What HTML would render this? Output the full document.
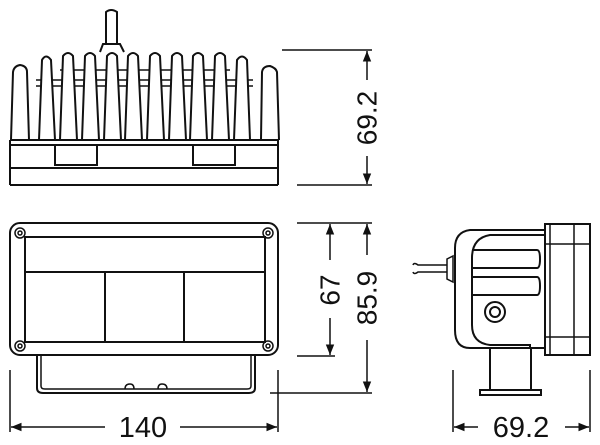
<!DOCTYPE html>
<html><head><style>body{margin:0;background:#fff}svg{display:block}</style></head><body>
<svg width="600" height="445" viewBox="0 0 600 445" xmlns="http://www.w3.org/2000/svg" fill="none" stroke="#111" stroke-width="2" font-family="Liberation Sans, sans-serif">
<defs><marker id="a" viewBox="0 0 10 10" refX="10" refY="5" markerWidth="7" markerHeight="7" orient="auto-start-reverse"><path d="M0,1 L10,5 L0,9z" fill="#111" stroke="none"/></marker></defs>
<!-- TOP VIEW -->
<path d="M106,44 V12 Q111,8 117,12 V44"/>
<path d="M100,52 L103,44 H120 L124,52"/>
<path d="M36,80 H253 M36,86 H253 M60,70 H230" stroke-width="1.5"/>
<g fill="#fff">
<path d="M11,140 L13,72 Q14,66 20,65 Q27,66 27,72 L29,140"/>
<path d="M261,140 L262,72 Q263,66 270,66 Q276,68 277,72 L279,140"/>
<path d="M39,140 L42,60 Q46,53 51,60 L55,140"/>
<path d="M60,140 L63,56 Q68,50 73,56 L77,140"/>
<path d="M82,140 L85,56 Q90,50 95,56 L99,140"/>
<path d="M104,140 L107,56 Q112,50 117,56 L121,140"/>
<path d="M125,140 L128,56 Q133,50 138,56 L142,140"/>
<path d="M147,140 L150,56 Q155,50 160,56 L164,140"/>
<path d="M169,140 L172,56 Q177,50 182,56 L186,140"/>
<path d="M190,140 L193,56 Q198,50 203,56 L207,140"/>
<path d="M212,140 L215,56 Q220,50 225,56 L229,140"/>
<path d="M234,140 L237,60 Q242,53 247,60 L250,140"/>
</g>
<path d="M10,140 H278 M10,145 H278 M10,168 H278 M10,185 H278"/>
<path d="M10,140 V185 M278,140 V185"/>
<path d="M55,145 V165 H97 V145 M193,145 V165 H235 V145"/>
<!-- 69.2 top dim -->
<path d="M282,50 H372 M297,185 H372" stroke-width="1.5"/>
<line x1="367" y1="80" x2="367" y2="51" marker-end="url(#a)" stroke-width="1.5"/>
<line x1="367" y1="156" x2="367" y2="184" marker-end="url(#a)" stroke-width="1.5"/>
<text x="367" y="118" transform="rotate(-90 367 118)" text-anchor="middle" dominant-baseline="central" font-size="28" fill="#111" stroke="none">69.2</text>
<!-- FRONT VIEW -->
<rect x="10" y="223" width="268" height="132" rx="10"/>
<rect x="25" y="237" width="240" height="105"/>
<path d="M25,272 H265 M105,272 V342 M184,272 V342"/>
<g stroke-width="1.5"><circle cx="20" cy="233" r="5"/><circle cx="268" cy="233" r="5"/><circle cx="20" cy="346" r="5"/><circle cx="268" cy="346" r="5"/>
<circle cx="20" cy="233" r="2"/><circle cx="268" cy="233" r="2"/><circle cx="20" cy="346" r="2"/><circle cx="268" cy="346" r="2"/></g>
<path d="M37,355 V388 Q37,393 43,393 H249 Q255,393 255,388 V355"/>
<path d="M41,355 V386 Q41,389 45,389 H247 Q251,389 251,386 V355" stroke-width="1.5"/>
<path d="M125,389 Q125,384 130,384 Q134,384 134,389 M158,389 Q158,384 162,384 Q167,384 167,389" stroke-width="1.5"/>
<!-- 140 -->
<path d="M10,370 V432 M278,370 V432" stroke-width="1.5"/>
<line x1="105" y1="427" x2="11" y2="427" marker-end="url(#a)" stroke-width="1.5"/>
<line x1="180" y1="427" x2="277" y2="427" marker-end="url(#a)" stroke-width="1.5"/>
<text x="143" y="437" text-anchor="middle" font-size="29" fill="#111" stroke="none">140</text>
<!-- 67 / 85.9 -->
<path d="M297,223 H372 M297,356 H335 M270,393 H372" stroke-width="1.5"/>
<line x1="330" y1="260" x2="330" y2="224" marker-end="url(#a)" stroke-width="1.5"/>
<line x1="330" y1="318" x2="330" y2="355" marker-end="url(#a)" stroke-width="1.5"/>
<text x="330" y="290" transform="rotate(-90 330 290)" text-anchor="middle" dominant-baseline="central" font-size="28" fill="#111" stroke="none">67</text>
<line x1="367" y1="255" x2="367" y2="224" marker-end="url(#a)" stroke-width="1.5"/>
<line x1="367" y1="340" x2="367" y2="392" marker-end="url(#a)" stroke-width="1.5"/>
<text x="367" y="298" transform="rotate(-90 367 298)" text-anchor="middle" dominant-baseline="central" font-size="28" fill="#111" stroke="none">85.9</text>
<!-- SIDE VIEW -->
<path d="M413,265 Q414,262 418,265 L447,265 M413,272 Q414,275 418,272 L447,272" stroke-width="1.5"/>
<path d="M447,259 L453,256 V282 L447,279 Z" stroke-width="1.5"/>
<path d="M545,230 H470 Q455,232 455,248 V330 Q455,348 470,348 H545"/>
<path d="M545,235 H490 Q472,238 472,258 V325 Q472,343 490,345 H530 V348"/>
<path d="M472,250 H537 Q540,250 540,259 Q540,268 537,268 H472"/>
<path d="M472,277 H537 Q540,277 540,286 Q540,295 537,295 H472"/>
<circle cx="495" cy="312" r="10"/><circle cx="495" cy="312" r="5"/>
<path d="M545,224 H590 V355 H545 Z"/>
<path d="M550,224 V355 M545,244 H590 M545,337 H590 M574,224 V355" stroke-width="1.5"/>
<path d="M490,348 V390 M531,348 V390 M480,390 H541 V395 H480 Z"/>
<!-- 69.2 side -->
<path d="M453,370 V432 M590,370 V432" stroke-width="1.5"/>
<line x1="478" y1="427" x2="454" y2="427" marker-end="url(#a)" stroke-width="1.5"/>
<line x1="565" y1="427" x2="589" y2="427" marker-end="url(#a)" stroke-width="1.5"/>
<text x="521" y="437" text-anchor="middle" font-size="29" fill="#111" stroke="none">69.2</text>
</svg>
</body></html>
